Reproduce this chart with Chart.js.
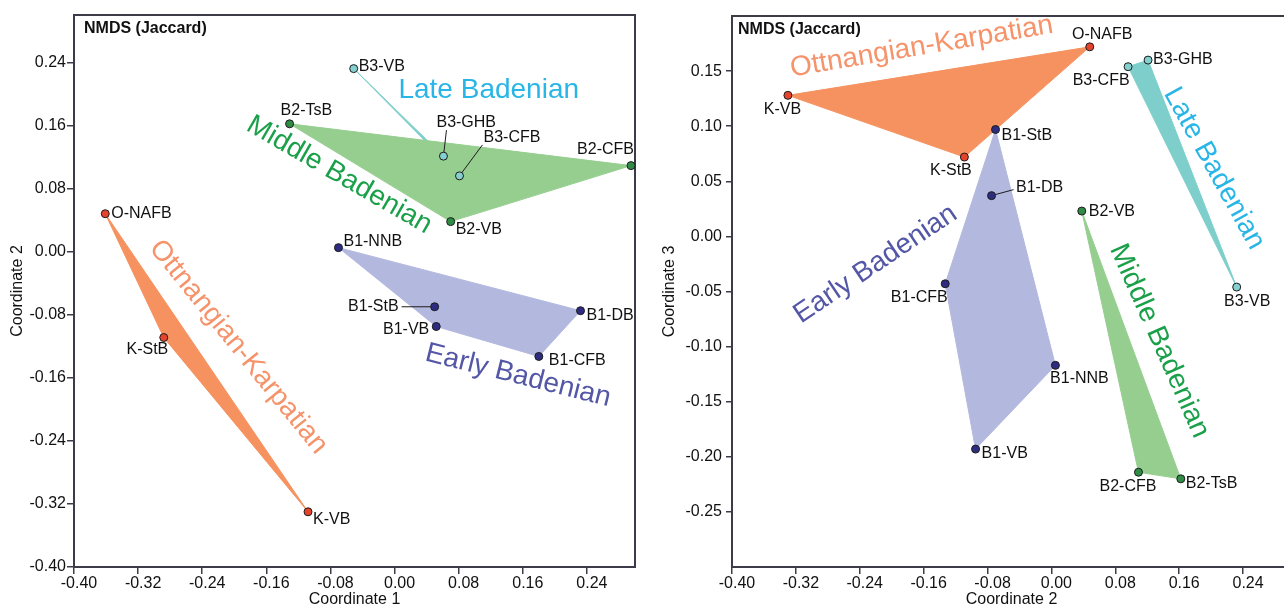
<!DOCTYPE html>
<html>
<head>
<meta charset="utf-8">
<script src="https://cdn.jsdelivr.net/npm/chart.js@4.4.0/dist/chart.umd.min.js"></script>
<style>
  html, body { margin: 0; padding: 0; background: #fff; overflow: hidden; width: 1284px; height: 608px; position: relative; }
  #c1 { position: absolute; left: 0; top: 0; }
  #c2 { position: absolute; left: 640px; top: 0; }
</style>
</head>
<body>
<canvas id="c1" width="640" height="608"></canvas>
<canvas id="c2" width="656" height="608"></canvas>
<script>
// Data
const groups = ["Ottnangian-Karpatian", "Early Badenian", "Middle Badenian", "Late Badenian"];
const sites = ["O-NAFB", "K-StB", "K-VB", "B1-NNB", "B1-StB", "B1-VB", "B1-DB", "B1-CFB",
               "B2-TsB", "B2-VB", "B2-CFB", "B3-VB", "B3-GHB", "B3-CFB"];
const siteGroup = [0, 0, 0, 1, 1, 1, 1, 1, 2, 2, 2, 3, 3, 3];
const coord1 = [-0.361, -0.288, -0.108, -0.070, 0.050, 0.052, 0.232, 0.180, -0.131, 0.070, 0.295, -0.051, 0.061, 0.081];
const coord2 = [0.048, -0.109, -0.330, 0.005, -0.070, -0.095, -0.075, -0.133, 0.162, 0.038, 0.109, 0.232, 0.121, 0.096];
const coord3 = [0.172, 0.072, 0.128, -0.117, 0.097, -0.193, 0.037, -0.043, -0.220, 0.023, -0.214, -0.046, 0.160, 0.154];

const ticks1 = [-0.40, -0.32, -0.24, -0.16, -0.08, 0.00, 0.08, 0.16, 0.24];
const ticks3 = [-0.25, -0.20, -0.15, -0.10, -0.05, 0.00, 0.05, 0.10, 0.15];

// colours
const groupFill = ["#F5925F", "#B3B8DE", "#95CE8F", "#7ECFCB"];
const groupPoint = ["#E5432B", "#2E2C80", "#2F8C45", "#84D0D0"];
const groupText = ["#F5936B", "#5457A6", "#1BA04A", "#29B6E6"];
const axisColor = "#3c3c48";
const family = "'Liberation Sans', Arial, Helvetica, sans-serif";

// label placement (pixels relative to point): dx, dy, align, leader end
const labels1 = {
  "O-NAFB": [6, 0, "left"], "K-StB": [4.5, 12.5, "right"], "K-VB": [5, 8, "left"],
  "B1-NNB": [5, -6, "left"], "B1-StB": [-36, 0, "right", [-33, 0]], "B1-VB": [-7, 3, "right"],
  "B1-DB": [6, 5, "left"], "B1-CFB": [10, 4, "left"], "B2-TsB": [-9, -13, "left"],
  "B2-VB": [5, 8, "left"], "B2-CFB": [3, -16, "right"], "B3-VB": [5, -2, "left"],
  "B3-GHB": [-7, -34, "left", [3, -26]], "B3-CFB": [24, -38, "left", [23, -31]]
};
const labels2 = {
  "O-NAFB": [12.5, -12.5, "center"], "K-StB": [-13.5, 13.5, "center"], "K-VB": [-5.5, 14.5, "center"],
  "B1-NNB": [24, 13.5, "center"], "B1-StB": [6, 6, "left"], "B1-VB": [6, 5, "left"],
  "B1-DB": [24.5, -8.5, "left", [22, -6]], "B1-CFB": [2.5, 13.5, "right"], "B2-TsB": [5, 4.5, "left"],
  "B2-VB": [7, 1, "left"], "B2-CFB": [-10.5, 14.5, "center"], "B3-VB": [10.5, 15, "center"],
  "B3-GHB": [5, 0, "left"], "B3-CFB": [1.5, 14, "right"]
};
// group names: x, y (data units), rotation in degrees
const groupLabels1 = [[-0.195, -0.121, 51], [0.154, -0.1575, 14], [-0.069, 0.097, 30], [0.1175, 0.205, 0]];
const groupLabels2 = [[-0.1625, 0.172, -9.5], [-0.2203, -0.0252, -34], [0.1351, -0.0949, 66], [0.2036, 0.0617, 61]];

function hull(pts) {
  const p = pts.slice().sort((a, b) => a.x - b.x || a.y - b.y);
  const cross = (o, a, b) => (a.x - o.x) * (b.y - o.y) - (a.y - o.y) * (b.x - o.x);
  const lower = [], upper = [];
  for (const q of p) {
    while (lower.length >= 2 && cross(lower[lower.length - 2], lower[lower.length - 1], q) <= 0) lower.pop();
    lower.push(q);
  }
  for (const q of p.slice().reverse()) {
    while (upper.length >= 2 && cross(upper[upper.length - 2], upper[upper.length - 1], q) <= 0) upper.pop();
    upper.push(q);
  }
  const h = lower.slice(0, -1).concat(upper.slice(0, -1));
  h.push(h[0]);
  return h;
}

function buildDatasets(xs, ys) {
  const ds = [];
  groups.forEach((g, gi) => {
    const pts = [];
    sites.forEach((s, i) => { if (siteGroup[i] === gi) pts.push({ x: xs[i], y: ys[i] }); });
    ds.push({
      type: "line", label: g + " hull", data: hull(pts), order: 2,
      fill: "shape", backgroundColor: groupFill[gi], borderColor: groupFill[gi],
      borderWidth: 1, pointRadius: 0, tension: 0
    });
    ds.push({
      type: "scatter", label: g, data: pts, order: 1, clip: false,
      backgroundColor: groupPoint[gi], borderColor: "#1c1c1c", borderWidth: 1, pointRadius: 4
    });
  });
  return ds;
}

function axis(min, max, tickVals, title, isX, o) {
  return {
    type: "linear", min: min, max: max,
    afterBuildTicks: a => { a.ticks = tickVals.map(v => ({ value: v })); },
    afterFit: a => { if (isX) a.height = o.size; else a.width = o.size; },
    grid: { drawOnChartArea: false, drawTicks: true, tickLength: o.tl, color: axisColor, lineWidth: 1.5 },
    border: { display: false },
    ticks: {
      font: { family: family, size: 16 }, color: "#111", padding: o.pad,
      labelOffset: isX ? 5 : 0, autoSkip: false, maxRotation: 0,
      callback: v => v.toFixed(2)
    },
    title: { display: true, text: title, color: "#111", font: { family: family, size: 16, lineHeight: 1 }, padding: o.tpad }
  };
}

function overlay(xs, ys, labels, groupLabels, titleDx) {
  return {
    id: "overlay",
    beforeDatasetsDraw(chart) {
      const { ctx, chartArea: a } = chart;
      ctx.save();
      ctx.strokeStyle = axisColor;
      ctx.lineWidth = 2;
      ctx.strokeRect(a.left, a.top, a.right - a.left, a.bottom - a.top);
      ctx.restore();
    },
    afterDatasetsDraw(chart) {
      const { ctx, chartArea: a, scales: { x, y } } = chart;
      ctx.save();
      ctx.fillStyle = "#111";
      ctx.font = "bold 16px " + family;
      ctx.textAlign = "left";
      ctx.textBaseline = "middle";
      ctx.fillText("NMDS (Jaccard)", a.left + titleDx, a.top + 14);

      ctx.font = "16px " + family;
      sites.forEach((name, i) => {
        const px = x.getPixelForValue(xs[i]), py = y.getPixelForValue(ys[i]);
        const [dx, dy, align, lead] = labels[name];
        if (lead) {
          const len = Math.hypot(lead[0], lead[1]);
          ctx.strokeStyle = "#1c1c1c";
          ctx.lineWidth = 1;
          ctx.beginPath();
          ctx.moveTo(px + lead[0] / len * 4, py + lead[1] / len * 4);
          ctx.lineTo(px + lead[0], py + lead[1]);
          ctx.stroke();
        }
        ctx.fillStyle = "#111";
        ctx.textAlign = align;
        ctx.fillText(name, px + dx, py + dy);
      });

      ctx.font = "28px " + family;
      ctx.textAlign = "center";
      groupLabels.forEach(([gx, gy, rot], gi) => {
        ctx.save();
        ctx.translate(x.getPixelForValue(gx), y.getPixelForValue(gy));
        ctx.rotate(rot * Math.PI / 180);
        ctx.fillStyle = groupText[gi];
        ctx.fillText(groups[gi], 0, 0);
        ctx.restore();
      });
      ctx.restore();
    }
  };
}

function makeChart(id, xs, ys, xTitle, yTitle, yMin, yMax, yTicks, labels, groupLabels, lay) {
  new Chart(document.getElementById(id), {
    type: "scatter",
    data: { datasets: buildDatasets(xs, ys) },
    options: {
      responsive: false,
      animation: false,
      devicePixelRatio: 1,
      layout: { padding: { left: 0, top: lay.top, right: 3, bottom: 0 } },
      plugins: { legend: { display: false }, tooltip: { enabled: false } },
      scales: {
        x: axis(-0.40, 0.30, ticks1, xTitle, true, { size: 608 - lay.bottom, tl: 7, pad: 0, tpad: { top: 0, bottom: 0 } }),
        y: axis(yMin, yMax, yTicks, yTitle, false, { size: lay.left, tl: lay.ytl, pad: lay.ypad, tpad: { top: lay.ytpad, bottom: 0 } })
      }
    },
    plugins: [overlay(xs, ys, labels, groupLabels, lay.titleDx)]
  });
}

makeChart("c1", coord1, coord2, "Coordinate 1", "Coordinate 2", -0.40, 0.30, ticks1, labels1, groupLabels1,
  { top: 15, bottom: 567, left: 74, ytl: 7, ypad: 1, ytpad: 10, titleDx: 10 });
makeChart("c2", coord2, coord3, "Coordinate 2", "Coordinate 3", -0.30, 0.20, ticks3, labels2, groupLabels2,
  { top: 16, bottom: 567, left: 92, ytl: 6, ypad: 4, ytpad: 22, titleDx: 6 });
</script>
</body>
</html>
